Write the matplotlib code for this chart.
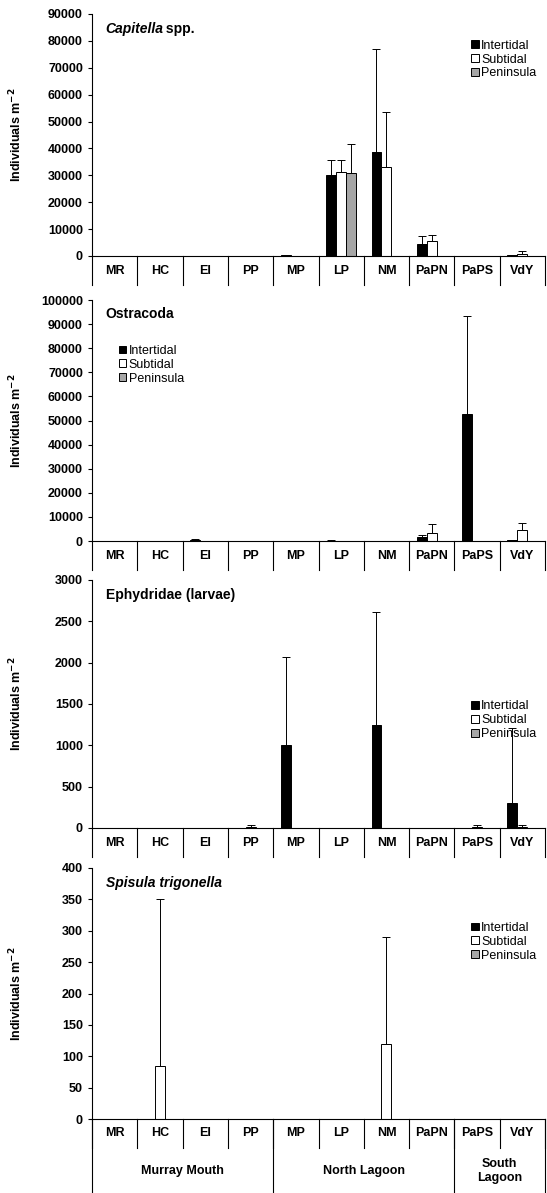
import matplotlib.pyplot as plt
from matplotlib.patches import Patch
from matplotlib.lines import Line2D
import numpy as np

plt.rcParams['font.family'] = ['Liberation Sans', 'DejaVu Sans']

sites = ["MR", "HC", "EI", "PP", "MP", "LP", "NM", "PaPN", "PaPS", "VdY"]
series = ["Intertidal", "Subtidal", "Peninsula"]
colors = ["black", "white", "#a6a6a6"]

# panel 1: Capitella spp.
cap_mean = [[0, 0, 0, 0, 200, 30000, 38800, 4300, 0, 200],
            [0, 0, 0, 0, 0, 31200, 33100, 5500, 0, 700],
            [0, 0, 0, 0, 0, 30700, 0, 0, 0, 0]]
cap_err = [[0, 0, 0, 0, 0, 5700, 38200, 3300, 0, 0],
           [0, 0, 0, 0, 0, 4400, 20500, 2300, 0, 1300],
           [0, 0, 0, 0, 0, 11000, 0, 0, 0, 0]]
# panel 2: Ostracoda
ost_mean = [[0, 0, 300, 0, 0, 100, 0, 1500, 52500, 300],
            [0, 0, 0, 0, 0, 0, 0, 3500, 0, 4700],
            [0, 0, 0, 0, 0, 0, 0, 0, 0, 0]]
ost_err = [[0, 0, 500, 0, 0, 400, 0, 1000, 41000, 0],
           [0, 0, 0, 0, 0, 0, 0, 3500, 0, 2800],
           [0, 0, 0, 0, 0, 0, 0, 0, 0, 0]]
# panel 3: Ephydridae (larvae)
eph_mean = [[0, 0, 0, 0, 1000, 0, 1240, 0, 0, 300],
            [0, 0, 0, 10, 0, 0, 0, 0, 10, 10],
            [0, 0, 0, 0, 0, 0, 0, 0, 0, 0]]
eph_err = [[0, 0, 0, 0, 1070, 0, 1370, 0, 0, 910],
           [0, 0, 0, 30, 0, 0, 0, 0, 30, 30],
           [0, 0, 0, 0, 0, 0, 0, 0, 0, 0]]
# panel 4: Spisula trigonella
spi_mean = [[0, 0, 0, 0, 0, 0, 0, 0, 0, 0],
            [0, 84, 0, 0, 0, 0, 120, 0, 0, 0],
            [0, 0, 0, 0, 0, 0, 0, 0, 0, 0]]
spi_err = [[0, 0, 0, 0, 0, 0, 0, 0, 0, 0],
           [0, 266, 0, 0, 0, 0, 170, 0, 0, 0],
           [0, 0, 0, 0, 0, 0, 0, 0, 0, 0]]

regions = ["Murray Mouth", "North Lagoon", "South\nLagoon"]
region_bounds = [(0, 4), (4, 8), (8, 10)]

W, H = 547, 1193
fig = plt.figure(figsize=(W / 100, H / 100), dpi=100)

panels = [
    (cap_mean, cap_err, 90000, 10000, 14, 256, "Capitella", " spp.", (1.0, 0.93)),
    (ost_mean, ost_err, 100000, 10000, 300, 541, "Ostracoda", "", (0.04, 0.85)),
    (eph_mean, eph_err, 3000, 500, 580, 828, "Ephydridae (larvae)", "", (1.0, 0.55)),
    (spi_mean, spi_err, 400, 50, 868, 1119, "Spisula trigonella", "", (1.0, 0.82)),
]

x0, x1 = 92, 545
x = np.arange(len(sites))
bw = 0.22
for i, (mean, err, ymax, step, top, bot, title, tsuf, lpos) in enumerate(panels):
    ax = fig.add_axes([x0 / W, 1 - bot / H, (x1 - x0) / W, (bot - top) / H])
    for k in range(3):
        ax.bar(x + (k - 1) * bw, mean[k], bw, color=colors[k], edgecolor="black",
               linewidth=0.7, zorder=2)
        e = np.array(err[k])
        m = e > 0
        ax.errorbar((x + (k - 1) * bw)[m], np.array(mean[k])[m],
                    yerr=[np.zeros(m.sum()), e[m]], fmt="none", ecolor="black",
                    elinewidth=0.7, capsize=3, capthick=0.7, zorder=3)
    ax.set_xlim(-0.5, len(sites) - 0.5)
    ax.set_ylim(0, ymax)
    ax.set_yticks(np.arange(0, ymax + 1, step))
    ax.tick_params(axis="y", labelsize=9, length=3, direction="out")
    for lab in ax.get_yticklabels():
        lab.set_fontweight("bold")
    ax.set_xticks([])
    for s in ["top", "right"]:
        ax.spines[s].set_visible(False)
    ax.spines["left"].set_linewidth(0.8)
    ax.spines["bottom"].set_linewidth(0.8)
    ax.set_ylabel("Individuals m$^{\\mathbf{-2}}$", fontsize=9, fontweight="bold")
    ax.yaxis.set_label_coords(-(x0 - 24) / (x1 - x0), 0.5)
    if tsuf:
        ax.text(0.03, 0.94, title, transform=ax.transAxes, fontsize=10,
                fontweight="bold", fontstyle="italic", va="center")
        ax.text(0.03 + 0.125, 0.94, tsuf, transform=ax.transAxes, fontsize=10,
                fontweight="bold", va="center")
    else:
        style = "italic" if i == 3 else "normal"
        ax.text(0.03, 0.94, title, transform=ax.transAxes, fontsize=10,
                fontweight="bold", fontstyle=style, va="center")
    handles = [Patch(facecolor=c, edgecolor="black", linewidth=0.7) for c in colors]
    ax.legend(handles, series, loc="upper right" if lpos[0] > 0.5 else "upper left",
              bbox_to_anchor=lpos, frameon=False, fontsize=9, handlelength=0.6,
              handleheight=0.6, handletextpad=0.2, labelspacing=0.15, borderpad=0.2)
    # site labels row
    row = 29 / (bot - top)
    for j, s in enumerate(sites):
        ax.text(j, -row / 2 * ymax, s, ha="center", va="center", fontsize=9,
                fontweight="bold", transform=ax.transData, clip_on=False)
    for j in range(len(sites) + 1):
        ax.add_line(Line2D([j - 0.5, j - 0.5], [0, -row * ymax], color="black",
                           linewidth=0.8, clip_on=False))
    if i == 3:
        for (a, b), r in zip(region_bounds, regions):
            ax.add_line(Line2D([a - 0.5, a - 0.5], [0, -(74 / (bot - top)) * ymax],
                               color="black", linewidth=0.8, clip_on=False))
            ax.text((a + b - 1) / 2, -(52 / (bot - top)) * ymax, r, ha="center",
                    va="center", fontsize=9, fontweight="bold", clip_on=False)
        ax.add_line(Line2D([9.5, 9.5], [0, -(74 / (bot - top)) * ymax],
                           color="black", linewidth=0.8, clip_on=False))

fig.savefig("out.png", dpi=100)
